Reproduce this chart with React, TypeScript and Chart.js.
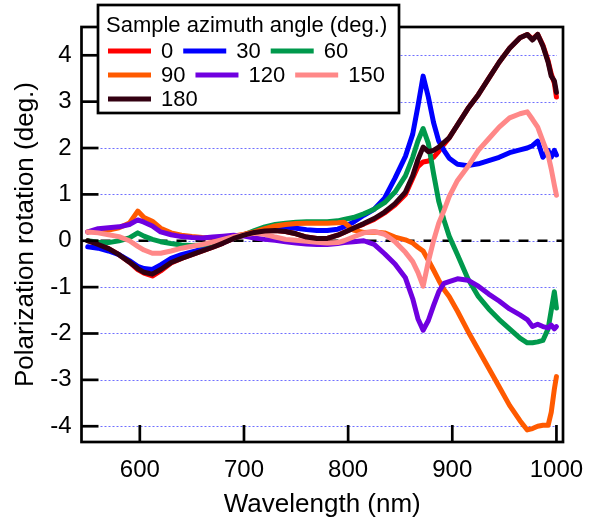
import { useEffect, useRef } from "react";
import { Chart, registerables } from "chart.js";

Chart.register(...registerables);

// Wavelength grid (nm)
const wavelengths = [
  550, 560, 570, 580, 590, 598, 604, 612, 620, 630, 640, 650, 660, 670, 680, 690, 700, 710, 720, 730,
  740, 750, 760, 770, 780, 790, 796, 805, 815, 825, 835, 845, 855, 862, 867, 872, 877, 882, 887, 892,
  897, 905, 915, 925, 935, 945, 955, 965, 972, 977, 982, 987, 992, 995, 998, 1000,
];

// Polarization rotation (deg.) for each sample azimuth angle
const rot0 = [
  0.0, -0.08, -0.17, -0.3, -0.46, -0.62, -0.7, -0.76, -0.65, -0.48, -0.38, -0.3, -0.22, -0.14, -0.05, 0.05, 0.12, 0.18, 0.21, 0.22,
  0.2, 0.15, 0.08, 0.05, 0.05, 0.12, 0.18, 0.27, 0.36, 0.46, 0.6, 0.77, 1.0, 1.35, 1.6, 1.7, 1.72, 1.8, 1.93, 2.08,
  2.22, 2.5, 2.85, 3.15, 3.5, 3.85, 4.15, 4.38, 4.45, 4.35, 4.45, 4.22, 3.88, 3.6, 3.4, 3.1,
];
const rot30 = [
  -0.13, -0.16, -0.22, -0.3, -0.43, -0.55, -0.6, -0.62, -0.52, -0.38, -0.3, -0.24, -0.18, -0.12, -0.04, 0.06, 0.13, 0.19, 0.25, 0.3,
  0.3, 0.27, 0.24, 0.22, 0.22, 0.25, 0.3, 0.4, 0.55, 0.68, 0.92, 1.35, 1.82, 2.3, 2.9, 3.55, 3.1, 2.55, 2.15, 1.95,
  1.78, 1.65, 1.62, 1.66, 1.73, 1.8, 1.9, 1.96, 2.0, 2.05, 2.15, 1.8, 1.95, 1.8, 1.95, 1.85,
];
const rot60 = [
  0.0, -0.03, -0.04, 0.0, 0.06, 0.17, 0.1, 0.03, -0.02, -0.06, -0.09, -0.1, -0.09, -0.05, -0.01, 0.05, 0.13, 0.22, 0.3, 0.35,
  0.38, 0.4, 0.41, 0.41, 0.41, 0.43, 0.46, 0.5, 0.58, 0.68, 0.82, 1.05, 1.4, 1.8, 2.15, 2.42, 2.1, 1.45, 0.85, 0.45,
  0.1, -0.3, -0.82, -1.2, -1.47, -1.7, -1.9, -2.1, -2.2, -2.2, -2.18, -2.15, -1.9, -1.5, -1.1, -1.45,
];
const rot90 = [
  0.19, 0.22, 0.23, 0.28, 0.38, 0.64, 0.5, 0.42, 0.27, 0.17, 0.12, 0.09, 0.07, 0.06, 0.07, 0.1, 0.14, 0.19, 0.26, 0.32,
  0.35, 0.37, 0.38, 0.38, 0.38, 0.39, 0.4, 0.23, 0.18, 0.19, 0.17, 0.08, 0.02, -0.05, -0.14, -0.22, -0.42, -0.63, -0.85, -1.05,
  -1.2, -1.52, -1.95, -2.35, -2.75, -3.15, -3.55, -3.88, -4.08, -4.05, -4.0, -3.98, -3.98, -3.7, -3.2, -2.93,
];
const rot120 = [
  0.19, 0.26, 0.28, 0.3, 0.35, 0.45, 0.4, 0.32, 0.19, 0.13, 0.09, 0.07, 0.06, 0.08, 0.1, 0.12, 0.1, 0.06, 0.03, 0.01,
  -0.02, -0.05, -0.07, -0.08, -0.08, -0.06, -0.04, -0.02, 0.0, -0.08, -0.28, -0.5, -0.8, -1.25, -1.68, -1.93, -1.72, -1.4, -1.1, -0.92,
  -0.88, -0.82, -0.85, -0.98, -1.15, -1.3, -1.47, -1.6, -1.7, -1.85, -1.8, -1.85, -1.88, -1.82, -1.9, -1.85,
];
const rot150 = [
  0.19, 0.17, 0.13, 0.09, 0.0, -0.12, -0.2, -0.27, -0.27, -0.22, -0.16, -0.12, -0.08, -0.03, 0.03, 0.09, 0.13, 0.16, 0.14, 0.08,
  0.03, 0.01, -0.01, -0.03, -0.05, -0.04, 0.0, 0.08, 0.17, 0.2, 0.14, -0.02, -0.25, -0.45, -0.68, -0.98, -0.45, 0.0, 0.38, 0.65,
  0.95, 1.3, 1.6, 1.95, 2.2, 2.45, 2.65, 2.74, 2.78, 2.62, 2.45, 2.15, 1.85, 1.55, 1.2, 0.98,
];
const rot180 = [
  0.0, -0.08, -0.17, -0.3, -0.46, -0.6, -0.68, -0.72, -0.62, -0.47, -0.38, -0.3, -0.22, -0.14, -0.05, 0.05, 0.12, 0.18, 0.21, 0.22,
  0.2, 0.15, 0.08, 0.05, 0.05, 0.12, 0.18, 0.27, 0.37, 0.48, 0.62, 0.8, 1.05, 1.4, 1.75, 2.02, 1.92, 1.95, 2.02, 2.12,
  2.22, 2.5, 2.85, 3.15, 3.5, 3.85, 4.15, 4.38, 4.45, 4.33, 4.45, 4.2, 3.85, 3.55, 3.45, 3.2,
];

const seriesLabels = ["0", "30", "60", "90", "120", "150", "180"];
const seriesValues = [rot0, rot30, rot60, rot90, rot120, rot150, rot180];
const seriesColors = ["#ff0000", "#0000ff", "#00994c", "#ff5a00", "#7000e0", "#ff8888", "#330011"];

const xTicks = [600, 700, 800, 900, 1000];
const yTicks = [-4, -3, -2, -1, 0, 1, 2, 3, 4];

const legendTitle = "Sample azimuth angle (deg.)";
const xTitle = "Wavelength (nm)";
const yTitle = "Polarization rotation (deg.)";

const FONT = "'Liberation Sans', Arial, Helvetica, sans-serif";
const LINE_W = 5;

const decorPlugin = {
  id: "decor",
  beforeDatasetsDraw(chart: any) {
    const { ctx, chartArea: a, scales } = chart;
    const ys = scales.y;
    ctx.save();
    ctx.strokeStyle = "#6f6fff";
    ctx.lineWidth = 1;
    ctx.setLineDash([2, 2]);
    for (const t of yTicks) {
      const py = Math.round(ys.getPixelForValue(t)) + 0.5;
      ctx.beginPath();
      ctx.moveTo(a.left + 19, py);
      ctx.lineTo(a.right - 6, py);
      ctx.stroke();
    }
    const p0 = ys.getPixelForValue(0);
    ctx.strokeStyle = "#000";
    ctx.lineWidth = 2.7;
    ctx.setLineDash([10, 9]);
    ctx.beginPath();
    ctx.moveTo(a.left + 19, p0);
    ctx.lineTo(a.right, p0);
    ctx.stroke();
    ctx.restore();
  },
  afterDatasetsDraw(chart: any) {
    const { ctx, chartArea: a, scales } = chart;
    ctx.save();
    ctx.strokeStyle = "#000";
    ctx.lineWidth = 2.7;
    ctx.setLineDash([]);
    ctx.strokeRect(a.left, a.top, a.right - a.left, a.bottom - a.top);
    const tl = 17;
    for (const t of yTicks) {
      const py = scales.y.getPixelForValue(t);
      ctx.beginPath();
      ctx.moveTo(a.left, py);
      ctx.lineTo(a.left + tl, py);
      ctx.stroke();
    }
    for (const t of xTicks) {
      const px = scales.x.getPixelForValue(t);
      ctx.beginPath();
      ctx.moveTo(px, a.bottom);
      ctx.lineTo(px, a.bottom - tl);
      ctx.stroke();
    }
    ctx.restore();
  },
  afterDraw(chart: any) {
    const { ctx } = chart;
    const bx = 98, by = 5, bw = 301, bh = 108;
    ctx.save();
    ctx.fillStyle = "#fff";
    ctx.fillRect(bx, by, bw, bh);
    ctx.strokeStyle = "#000";
    ctx.lineWidth = 2.7;
    ctx.strokeRect(bx, by, bw, bh);
    ctx.font = `22px ${FONT}`;
    ctx.fillStyle = "#000";
    ctx.textBaseline = "middle";
    ctx.textAlign = "left";
    ctx.fillText(legendTitle, bx + 8, by + 21);
    const rowY = [by + 46, by + 70, by + 94];
    const perRow = 3;
    const ds = chart.data.datasets;
    let cx = bx + 10;
    for (let i = 0; i < ds.length; i++) {
      const row = Math.floor(i / perRow);
      if (i % perRow === 0) cx = bx + 10;
      const y = rowY[row];
      ctx.strokeStyle = ds[i].borderColor;
      ctx.lineWidth = LINE_W;
      ctx.beginPath();
      ctx.moveTo(cx, y);
      ctx.lineTo(cx + 43, y);
      ctx.stroke();
      cx += 53;
      ctx.fillText(ds[i].label, cx, y + 1);
      cx += ctx.measureText(ds[i].label).width + 10;
    }
    ctx.restore();
  },
};

export default function App() {
  const ref = useRef<HTMLCanvasElement | null>(null);
  useEffect(() => {
    if (!ref.current) return;
    const datasets = seriesValues.map((vals, i) => ({
      label: seriesLabels[i],
      data: wavelengths.map((w, j) => ({ x: w, y: vals[j] })),
      borderColor: seriesColors[i],
      backgroundColor: seriesColors[i],
      borderWidth: LINE_W,
      borderJoinStyle: "round" as const,
      borderCapStyle: "round" as const,
      pointRadius: 0,
      tension: 0,
      fill: false,
      order: seriesLabels.length - i,
    }));
    const chart = new Chart(ref.current, {
      type: "line",
      data: { datasets },
      options: {
        animation: false,
        responsive: false,
        devicePixelRatio: 1,
        layout: { padding: { top: 27, right: 26, left: 0, bottom: 0 } },
        plugins: { legend: { display: false }, tooltip: { enabled: false } },
        scales: {
          x: {
            type: "linear",
            min: 544,
            max: 1006.3,
            grid: { display: false, drawTicks: false },
            border: { display: false },
            afterBuildTicks: (s: any) => {
              s.ticks = xTicks.map((v) => ({ value: v }));
            },
            afterFit: (s: any) => {
              s.height = 89;
              s.paddingLeft = 0;
              s.paddingRight = 0;
            },
            ticks: {
              color: "#000",
              font: { family: FONT, size: 24 },
              padding: 14,
              maxRotation: 0,
              autoSkip: false,
              callback: (v: any) => String(v),
            },
            title: { display: true, text: xTitle, color: "#000", font: { family: FONT, size: 26 }, padding: { top: 0, bottom: 11 } },
          },
          y: {
            type: "linear",
            min: -4.34,
            max: 4.61,
            grid: { display: false, drawTicks: false },
            border: { display: false },
            afterBuildTicks: (s: any) => {
              s.ticks = yTicks.map((v) => ({ value: v }));
            },
            afterFit: (s: any) => {
              s.width = 81.5;
              s.paddingTop = 0;
              s.paddingBottom = 0;
            },
            ticks: { color: "#000", font: { family: FONT, size: 24 }, padding: 10, autoSkip: false, callback: (v: any) => String(v) },
            title: { display: true, text: yTitle, color: "#000", font: { family: FONT, size: 26 }, padding: { top: 10, bottom: 0 } },
          },
        },
      },
      plugins: [decorPlugin],
    });
    return () => chart.destroy();
  }, []);
  return (
    <div style={{ position: "fixed", left: 0, top: 0, width: 589, height: 531, background: "#fff" }}>
      <canvas ref={ref} width={589} height={531} style={{ display: "block" }} />
    </div>
  );
}
